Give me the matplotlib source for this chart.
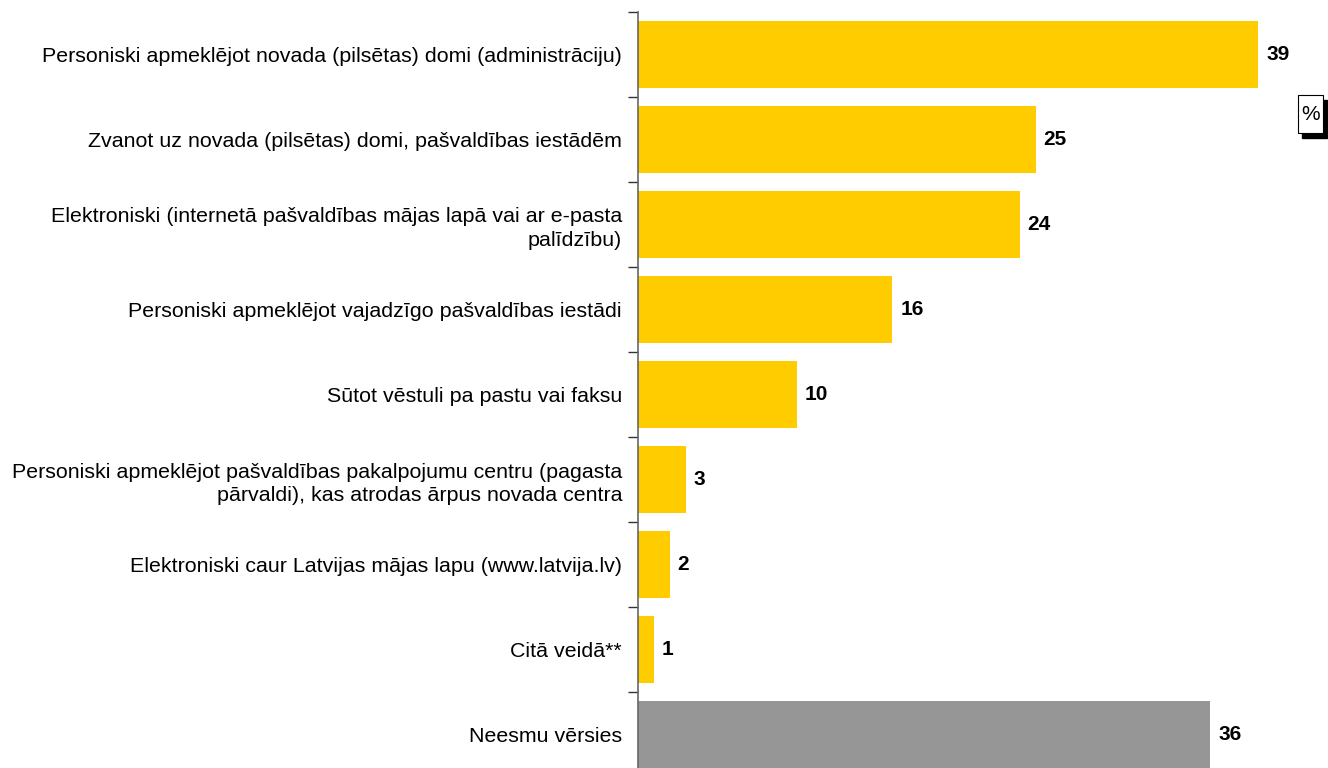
import matplotlib
matplotlib.use("Agg")
import matplotlib.pyplot as plt
import numpy as np

categories = [
    "Personiski apmeklējot novada (pilsētas) domi (administrāciju)",
    "Zvanot uz novada (pilsētas) domi, pašvaldības iestādēm",
    "Elektroniski (internetā pašvaldības mājas lapā vai ar e-pasta\npalīdzību)",
    "Personiski apmeklējot vajadzīgo pašvaldības iestādi",
    "Sūtot vēstuli pa pastu vai faksu",
    "Personiski apmeklējot pašvaldības pakalpojumu centru (pagasta\npārvaldi), kas atrodas ārpus novada centra",
    "Elektroniski caur Latvijas mājas lapu (www.latvija.lv)",
    "Citā veidā**",
    "Neesmu vērsies",
]
values = [39, 25, 24, 16, 10, 3, 2, 1, 36]
colors = ["#FFCC00"] * 8 + ["#969696"]

plt.rcParams['font.family'] = ['Liberation Sans', 'DejaVu Sans']

fig = plt.figure(figsize=(13.28, 7.68), dpi=100)
W, H = 1328, 768
left, right = 638, 1290
top, bottom = 12, 777
ax = fig.add_axes([left / W, 1 - bottom / H, (right - left) / W, (bottom - top) / H])

y = np.arange(len(categories))
ax.barh(y, values, height=0.78, color=colors)
ax.set_ylim(len(categories) - 0.5, -0.5)
ax.set_xlim(0, (right - left) / 15.9)

for yi, v in zip(y, values):
    ax.text(v + 0.5, yi, str(v), va='center', ha='left', fontsize=15, fontweight='bold')

ax.set_yticks(y)
ax.set_yticklabels(categories, fontsize=15.4, ha='right', multialignment='right', linespacing=1.32)
ax.tick_params(axis='y', which='major', length=0, pad=11.5)
ax.set_yticks(np.arange(-0.5, len(categories) - 0.5, 1.0), minor=True)
ax.tick_params(axis='y', which='minor', length=7, width=1, color='#333333', direction='out')
ax.set_xticks([])
for s in ['top', 'right', 'bottom']:
    ax.spines[s].set_visible(False)
ax.spines['left'].set_color('#666666')
ax.spines['left'].set_linewidth(1.2)

# % box with shadow
bx0, by0, bx1, by1 = 1298, 95, 1323, 133
fig.patches.append(matplotlib.patches.Rectangle(((bx0 + 4) / W, 1 - (by1 + 5) / H), (bx1 - bx0) / W, (by1 - by0) / H,
                                                transform=fig.transFigure, color='black', zorder=1))
fig.patches.append(matplotlib.patches.Rectangle((bx0 / W, 1 - by1 / H), (bx1 - bx0) / W, (by1 - by0) / H,
                                                transform=fig.transFigure, facecolor='white',
                                                edgecolor='black', linewidth=0.8, zorder=2))
fig.text((bx0 + bx1) / 2 / W, 1 - 114 / H, "%", ha='center', va='center', fontsize=15, zorder=3)

fig.savefig("out.png", dpi=100)
